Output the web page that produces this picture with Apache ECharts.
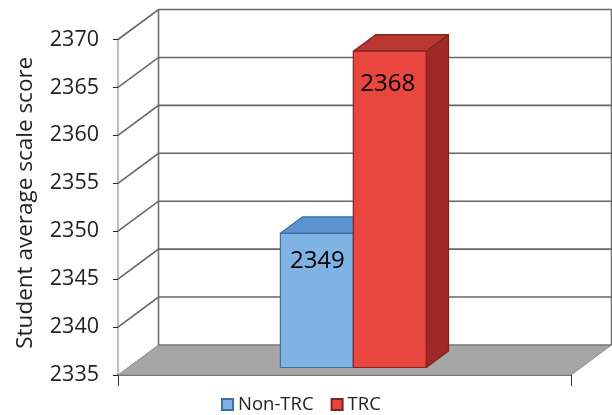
<!DOCTYPE html>
<html>
<head>
<meta charset="utf-8">
<style>html,body{margin:0;padding:0;background:#fff}#chart{width:612px;height:415px}</style>
<script src="https://cdn.jsdelivr.net/npm/echarts@6/dist/echarts.min.js"></script>
</head>
<body>
<div id="chart"></div>
<script>
// Student scores by group
const categories = ['All students'];
const nonTrcValues = [2349];
const trcValues = [2368];
const scoreTicks = [2335, 2340, 2345, 2350, 2355, 2360, 2365, 2370];

// Oblique projection of the chart box
const DEPTH_X = 40.5, DEPTH_Y = -30;
const BAR_FRONT = 0.25, BAR_BACK = 0.8;
const BAR_BAND = 0.161;
const BAR_NUDGE_X = -1.3;
const FONT = '"Open Sans", sans-serif';

const shift = (p, t) => [p[0] + DEPTH_X * t, p[1] + DEPTH_Y * t];

function renderFloor(params) {
  const g = params.coordSys;
  const yb = g.y + g.height, xl = g.x, xr = g.x + g.width;
  return {
    type: 'group',
    children: [
      {
        type: 'polygon', silent: true,
        shape: { points: [[xl, yb], [xr, yb], shift([xr, yb], 1), shift([xl, yb], 1)] },
        style: { fill: '#a6a6a6', stroke: '#8c8c8c', lineWidth: 1 }
      },
      {
        type: 'line', silent: true,
        shape: { x1: xl + DEPTH_X, y1: yb + DEPTH_Y, x2: xr + DEPTH_X, y2: yb + DEPTH_Y },
        style: { stroke: '#808080', lineWidth: 1.6 }
      }
    ]
  };
}

function renderWallLine(params, api) {
  const g = params.coordSys;
  const y = api.coord([0, api.value(0)])[1];
  const l = [g.x, y], backL = shift(l, 1), backR = shift([g.x + g.width, y], 1);
  return {
    type: 'polyline', silent: true,
    shape: { points: [l, backL, backR] },
    style: { fill: 'none', stroke: '#666666', lineWidth: 1.6 }
  };
}

function renderWallEdges(params) {
  const g = params.coordSys;
  const yb = g.y + g.height;
  const edge = x => ({
    type: 'line', silent: true,
    shape: { x1: x + DEPTH_X, y1: g.y + DEPTH_Y, x2: x + DEPTH_X, y2: yb + DEPTH_Y },
    style: { stroke: '#707070', lineWidth: 1.6 }
  });
  return { type: 'group', children: [edge(g.x), edge(g.x + g.width)] };
}

function barRenderer(slot, colors, labelDx, labelDy) {
  return function (params, api) {
    const value = api.value(1);
    const band = api.size([1, 0])[0];
    const w = band * BAR_BAND;
    const top = api.coord([api.value(0), value]);
    const base = api.coord([api.value(0), scoreTicks[0]]);
    const x0 = top[0] + slot * w + BAR_NUDGE_X;
    const corners = [[x0, top[1]], [x0 + w, top[1]], [x0 + w, base[1]], [x0, base[1]]];
    const f = corners.map(p => shift(p, BAR_FRONT));
    const b = corners.map(p => shift(p, BAR_BACK));
    const face = (pts, fill) => ({
      type: 'polygon', silent: true, shape: { points: pts },
      style: { fill, stroke: colors.edge, lineWidth: 1.2, lineJoin: 'round' }
    });
    return {
      type: 'group',
      children: [
        face([f[0], f[1], b[1], b[0]], colors.top),
        face([f[1], b[1], b[2], f[2]], colors.side),
        face(f, colors.front),
        {
          type: 'text', silent: true,
          style: {
            x: f[0][0] + w / 2 + labelDx, y: f[0][1] + labelDy,
            text: String(value), fill: '#000', font: '24px ' + FONT,
            textAlign: 'center', textVerticalAlign: 'middle'
          }
        }
      ]
    };
  };
}

const chart = echarts.init(document.getElementById('chart'), null, { renderer: 'canvas' });
chart.setOption({
  animation: false,
  backgroundColor: '#fff',
  grid: { left: 118, top: 39.5, width: 453, height: 335.5 },
  legend: {
    data: ['Non-TRC', 'TRC'], top: 395, left: 221, icon: 'rect',
    itemWidth: 11, itemHeight: 11, itemGap: 17, padding: 0,
    textStyle: { fontFamily: FONT, fontSize: 18.5, color: '#222' }
  },
  xAxis: {
    type: 'category', data: categories,
    axisLabel: { show: false },
    axisLine: { lineStyle: { color: '#5f5f5f', width: 2 } },
    axisTick: { show: true, length: 11, lineStyle: { color: '#333', width: 1 } }
  },
  yAxis: {
    type: 'value', min: scoreTicks[0], max: scoreTicks[scoreTicks.length - 1], interval: 5,
    name: 'Student average scale score', nameLocation: 'middle', nameGap: 81,
    nameTextStyle: { fontFamily: FONT, fontSize: 22.5, color: '#222', padding: [0, 0, 0, 9] },
    axisLabel: { fontFamily: FONT, fontSize: 21.5, color: '#222', margin: 19, formatter: v => String(v) },
    axisLine: { show: true, lineStyle: { color: '#aaaaaa', width: 1.5 } },
    axisTick: { show: true, length: 5, lineStyle: { color: '#222', width: 1 } },
    splitLine: { show: false }
  },
  series: [
    { name: 'floor', type: 'custom', data: [[0]], renderItem: renderFloor, z: 1, silent: true },
    { name: 'edges', type: 'custom', data: [[0]], renderItem: renderWallEdges, z: 2, silent: true },
    { name: 'grid', type: 'custom', data: scoreTicks.slice(1).map(v => [v]), renderItem: renderWallLine, z: 2, silent: true },
    {
      name: 'Non-TRC', type: 'custom', z: 3,
      data: nonTrcValues.map((v, i) => [i, v]),
      itemStyle: { color: '#7fb3e4', borderColor: '#3d6fa5', borderWidth: 1 },
      renderItem: barRenderer(-1, { front: '#7fb3e4', top: '#5a93cf', side: '#4a7db0', edge: '#3d6fa5' }, 0.5, 28)
    },
    {
      name: 'TRC', type: 'custom', z: 4,
      data: trcValues.map((v, i) => [i, v]),
      itemStyle: { color: '#e9463f', borderColor: '#7a2522', borderWidth: 1 },
      renderItem: barRenderer(0, { front: '#e9463f', top: '#b93631', side: '#a02826', edge: '#7a2522' }, -2, 33)
    }
  ]
});
</script>
</body>
</html>
